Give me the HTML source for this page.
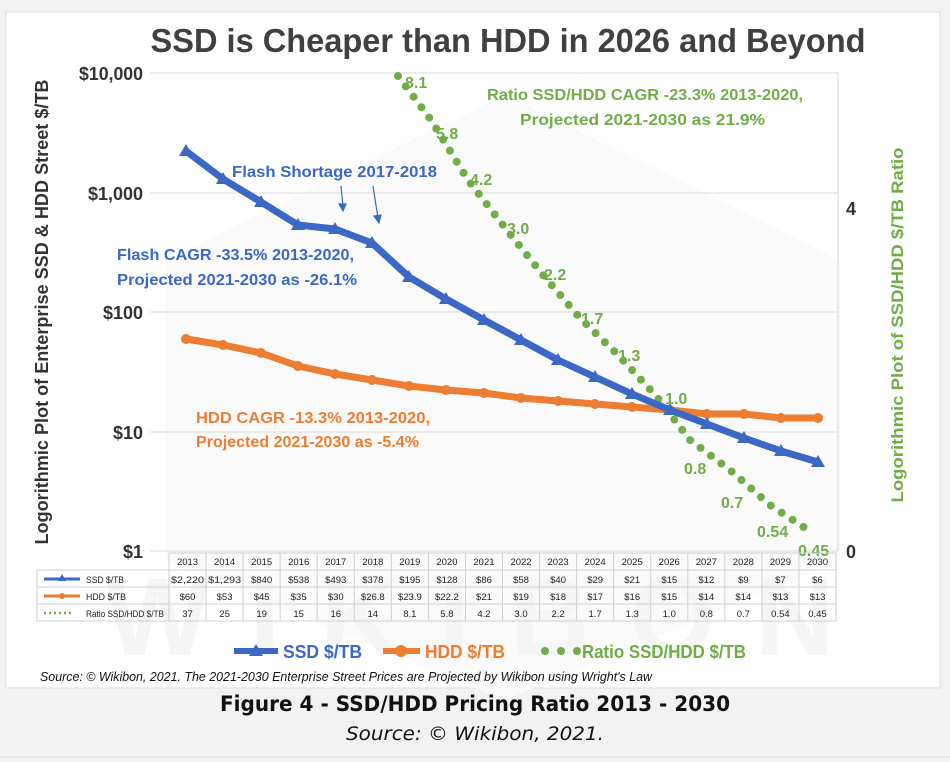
<!DOCTYPE html>
<html><head><meta charset="utf-8"><style>
html,body{margin:0;padding:0;background:#f2f2f2;width:950px;height:762px;overflow:hidden}
svg{display:block}
text{font-family:"Liberation Sans",sans-serif}
</style></head><body>
<svg width="950" height="762" viewBox="0 0 950 762" xmlns="http://www.w3.org/2000/svg">
<rect x="0" y="0" width="950" height="762" fill="#f2f2f2"/>
<rect x="6" y="12" width="934" height="676" fill="#fff" stroke="#ddd"/>
<line x1="0" y1="757" x2="950" y2="757" stroke="#ddd"/>
<!-- watermark -->
<polygon points="505,95 840,260 840,560 505,700 165,560 165,260" fill="#fafafa"/>
<text x="490" y="655" font-size="110" font-weight="bold" fill="#f5f5f5" text-anchor="middle" letter-spacing="40">WIKIBON</text>
<!-- title -->
<text x="508" y="52" font-size="33" font-weight="bold" fill="#404040" text-anchor="middle" textLength="715" lengthAdjust="spacingAndGlyphs">SSD is Cheaper than HDD in 2026 and Beyond</text>
<!-- grid -->
<g stroke="#d9d9d9" stroke-width="1">
<line x1="150" y1="73" x2="838" y2="73"/>
<line x1="150" y1="193" x2="838" y2="193"/>
<line x1="150" y1="312" x2="838" y2="312"/>
<line x1="150" y1="432" x2="838" y2="432"/>
<line x1="150" y1="551" x2="838" y2="551"/>
<line x1="838" y1="73" x2="838" y2="551"/>
</g>
<!-- left ticks -->
<g font-size="18" font-weight="bold" fill="#333" text-anchor="end">
<text x="143" y="80" textLength="64" lengthAdjust="spacingAndGlyphs">$10,000</text>
<text x="143" y="200" textLength="55" lengthAdjust="spacingAndGlyphs">$1,000</text>
<text x="143" y="319" textLength="40" lengthAdjust="spacingAndGlyphs">$100</text>
<text x="143" y="439" textLength="30" lengthAdjust="spacingAndGlyphs">$10</text>
<text x="143" y="558" textLength="20" lengthAdjust="spacingAndGlyphs">$1</text>
</g>
<g font-size="18" font-weight="bold" fill="#333">
<text x="846" y="215">4</text>
<text x="846" y="558">0</text>
</g>
<text transform="translate(48,312) rotate(-90)" font-size="18" font-weight="bold" fill="#333" text-anchor="middle" textLength="465" lengthAdjust="spacingAndGlyphs">Logorithmic Plot of Enterprise SSD &amp; HDD Street $/TB</text>
<text transform="translate(903,325) rotate(-90)" font-size="17" font-weight="bold" fill="#70ad47" text-anchor="middle" textLength="355" lengthAdjust="spacingAndGlyphs">Logorithmic Plot of SSD/HDD $/TB Ratio</text>
<!-- ratio dots -->
<polyline points="398,76 431,120 468,180 506,229 543,275 580,318 618,355 657,397 690,440 730,470 770,505 808,530" fill="none" stroke="#70ad47" stroke-width="8" stroke-linecap="round" stroke-dasharray="0 13"/>
<!-- HDD -->
<polyline points="186,339 223,345 261,353 298,366 335,374 372,380 409,386 446,390 484,393 521,398 558,401 595,404 632,407 670,410 707,414 744,414 781,418 818,418" fill="none" stroke="#ed7d31" stroke-width="7" stroke-linejoin="round"/>
<g fill="#ed7d31">
<circle cx="186" cy="339" r="5"/><circle cx="223" cy="345" r="5"/><circle cx="261" cy="353" r="5"/><circle cx="298" cy="366" r="5"/><circle cx="335" cy="374" r="5"/><circle cx="372" cy="380" r="5"/><circle cx="409" cy="386" r="5"/><circle cx="446" cy="390" r="5"/><circle cx="484" cy="393" r="5"/><circle cx="521" cy="398" r="5"/><circle cx="558" cy="401" r="5"/><circle cx="595" cy="404" r="5"/><circle cx="632" cy="407" r="5"/><circle cx="670" cy="410" r="5"/><circle cx="707" cy="414" r="5"/><circle cx="744" cy="414" r="5"/><circle cx="781" cy="418" r="5"/><circle cx="818" cy="418" r="5"/>
</g>
<!-- SSD -->
<polyline points="186,151 223,179 261,202 298,225 335,229 372,243 409,277 446,299 484,320 521,340 558,360 595,377 632,394 670,410 707,424 744,438 781,451 818,462" fill="none" stroke="#3a68c4" stroke-width="7" stroke-linejoin="round"/>
<g fill="#3a68c4">
<path d="M186,144l7,12h-14z"/><path d="M223,172l7,12h-14z"/><path d="M261,195l7,12h-14z"/><path d="M298,218l7,12h-14z"/><path d="M335,222l7,12h-14z"/><path d="M372,236l7,12h-14z"/><path d="M409,270l7,12h-14z"/><path d="M446,292l7,12h-14z"/><path d="M484,313l7,12h-14z"/><path d="M521,333l7,12h-14z"/><path d="M558,353l7,12h-14z"/><path d="M595,370l7,12h-14z"/><path d="M632,387l7,12h-14z"/><path d="M670,403l7,12h-14z"/><path d="M707,417l7,12h-14z"/><path d="M744,431l7,12h-14z"/><path d="M781,444l7,12h-14z"/><path d="M818,455l7,12h-14z"/>
</g>
<!-- annotations -->
<g font-size="16" font-weight="bold" fill="#3a68c4">
<text x="232" y="177" textLength="205" lengthAdjust="spacingAndGlyphs">Flash Shortage 2017-2018</text>
<text x="117" y="260" textLength="237" lengthAdjust="spacingAndGlyphs">Flash CAGR -33.5% 2013-2020,</text>
<text x="117" y="285" textLength="240" lengthAdjust="spacingAndGlyphs">Projected 2021-2030 as -26.1%</text>
</g>
<g stroke="#3a68c4" stroke-width="1.2" fill="#3a68c4">
<line x1="341" y1="186" x2="343" y2="206"/><path d="M339,204l4,7l3,-7z"/>
<line x1="373" y1="186" x2="378" y2="218"/><path d="M374,216l5,7l2,-8z"/>
</g>
<g font-size="16" font-weight="bold" fill="#ed7d31">
<text x="196" y="423" textLength="234" lengthAdjust="spacingAndGlyphs">HDD CAGR -13.3% 2013-2020,</text>
<text x="196" y="447" textLength="223" lengthAdjust="spacingAndGlyphs">Projected 2021-2030 as -5.4%</text>
</g>
<g font-size="16" font-weight="bold" fill="#70ad47">
<text x="487" y="100" textLength="316" lengthAdjust="spacingAndGlyphs">Ratio SSD/HDD CAGR -23.3% 2013-2020,</text>
<text x="520" y="125" textLength="245" lengthAdjust="spacingAndGlyphs">Projected 2021-2030 as 21.9%</text>
</g>
<g font-size="16" font-weight="bold" fill="#70ad47">
<text x="405" y="88">8.1</text><text x="436" y="139">5.8</text><text x="470" y="185">4.2</text><text x="507" y="234">3.0</text><text x="544" y="280">2.2</text><text x="581" y="324">1.7</text><text x="618" y="361">1.3</text><text x="665" y="404">1.0</text><text x="684" y="474">0.8</text><text x="721" y="508">0.7</text><text x="757" y="537">0.54</text><text x="798" y="556">0.45</text>
</g>
<!-- table -->
<g stroke="#d0d0d0" stroke-width="1" fill="none">
<rect x="169" y="553" width="667" height="68"/>
<rect x="37" y="570" width="132" height="51"/>
<line x1="37" y1="587" x2="836" y2="587"/><line x1="37" y1="604" x2="836" y2="604"/><line x1="169" y1="570" x2="836" y2="570"/>
</g>
<g stroke="#d0d0d0" id="vl"></g>
<g font-size="9.5" fill="#222" text-anchor="middle" id="tbl"></g>
<line x1="44" y1="579" x2="80" y2="579" stroke="#3a68c4" stroke-width="3"/><path d="M62,574l4,7h-8z" fill="#3a68c4"/>
<line x1="44" y1="596" x2="80" y2="596" stroke="#ed7d31" stroke-width="3"/><circle cx="62" cy="596" r="3" fill="#ed7d31"/>
<line x1="44" y1="613" x2="74" y2="613" stroke="#70ad47" stroke-width="2.5" stroke-dasharray="2 3"/>
<g font-size="9.5" fill="#222"><text x="86" y="583" textLength="38" lengthAdjust="spacingAndGlyphs">SSD $/TB</text><text x="86" y="600" textLength="40" lengthAdjust="spacingAndGlyphs">HDD $/TB</text><text x="86" y="617" textLength="78" lengthAdjust="spacingAndGlyphs">Ratio SSD/HDD $/TB</text></g>
<!-- legend -->
<line x1="234" y1="651" x2="278" y2="651" stroke="#3a68c4" stroke-width="6"/><path d="M256,644l7,12h-14z" fill="#3a68c4"/>
<text x="283" y="658" font-size="18" font-weight="bold" fill="#3a68c4" textLength="79" lengthAdjust="spacingAndGlyphs">SSD $/TB</text>
<line x1="383" y1="651" x2="420" y2="651" stroke="#ed7d31" stroke-width="6"/><circle cx="401" cy="651" r="6" fill="#ed7d31"/>
<text x="425" y="658" font-size="18" font-weight="bold" fill="#ed7d31" textLength="80" lengthAdjust="spacingAndGlyphs">HDD $/TB</text>
<g fill="#70ad47"><circle cx="545" cy="651" r="4"/><circle cx="561" cy="651" r="4"/><circle cx="577" cy="651" r="4"/></g>
<text x="582" y="658" font-size="18" font-weight="bold" fill="#70ad47" textLength="164" lengthAdjust="spacingAndGlyphs">Ratio SSD/HDD $/TB</text>
<text x="40" y="681" font-size="13" font-style="italic" fill="#111" textLength="612" lengthAdjust="spacingAndGlyphs">Source: © Wikibon, 2021. The 2021-2030 Enterprise Street Prices are Projected by Wikibon using Wright's Law</text>
<text x="475" y="711" font-size="21" font-weight="bold" fill="#111" text-anchor="middle" style="font-family:'DejaVu Sans',sans-serif" textLength="510" lengthAdjust="spacingAndGlyphs">Figure 4 - SSD/HDD Pricing Ratio 2013 - 2030</text>
<text x="475" y="740" font-size="19" font-style="italic" fill="#111" text-anchor="middle" style="font-family:'DejaVu Sans',sans-serif" textLength="258" lengthAdjust="spacingAndGlyphs">Source: © Wikibon, 2021.</text>
</svg>
<script>
(function(){
var ns="http://www.w3.org/2000/svg";
var ssd=["$2,220","$1,293","$840","$538","$493","$378","$195","$128","$86","$58","$40","$29","$21","$15","$12","$9","$7","$6"],
hdd=["$60","$53","$45","$35","$30","$26.8","$23.9","$22.2","$21","$19","$18","$17","$16","$15","$14","$14","$13","$13"],
rat=["37","25","19","15","16","14","8.1","5.8","4.2","3.0","2.2","1.7","1.3","1.0","0.8","0.7","0.54","0.45"];
var t=document.getElementById("tbl"),v=document.getElementById("vl");
var w=667/18;
for(var i=0;i<18;i++){
 var cx=169+w*(i+0.5);
 if(i>0){var l=document.createElementNS(ns,"line");l.setAttribute("x1",169+w*i);l.setAttribute("x2",169+w*i);l.setAttribute("y1",553);l.setAttribute("y2",621);v.appendChild(l);}
 [[String(2013+i),565],[ssd[i],583],[hdd[i],600],[rat[i],617]].forEach(function(p){
  var e=document.createElementNS(ns,"text");e.setAttribute("x",cx);e.setAttribute("y",p[1]);e.textContent=p[0];
  if(p[0].length>=6){e.setAttribute("textLength","33");e.setAttribute("lengthAdjust","spacingAndGlyphs");}
  t.appendChild(e);});
}
})();
</script>
</body></html>
